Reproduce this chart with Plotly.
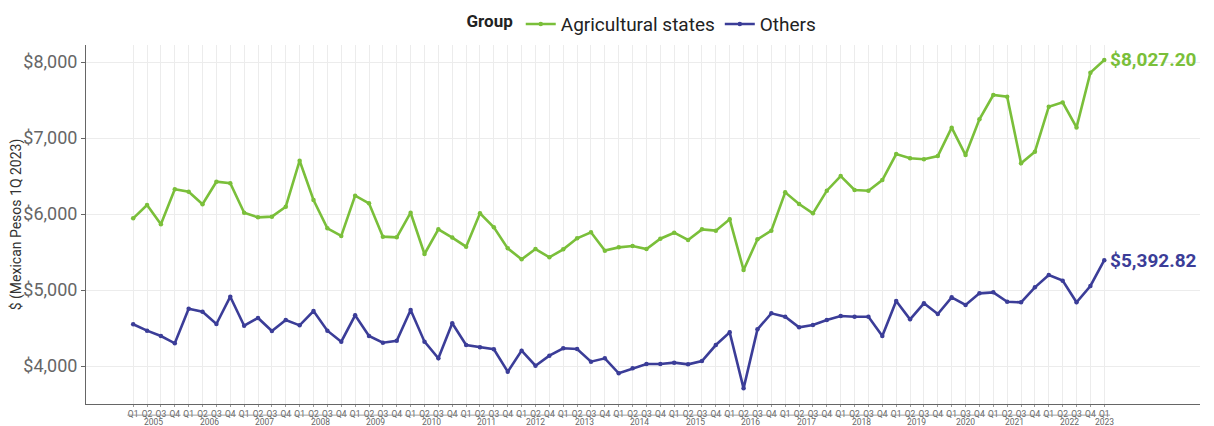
import plotly.graph_objects as go

# ---- data ----
year_quarters = {
    2005: ["Q1", "Q2", "Q3", "Q4"], 2006: ["Q1", "Q2", "Q3", "Q4"],
    2007: ["Q1", "Q2", "Q3", "Q4"], 2008: ["Q1", "Q2", "Q3", "Q4"],
    2009: ["Q1", "Q2", "Q3", "Q4"], 2010: ["Q1", "Q2", "Q3", "Q4"],
    2011: ["Q1", "Q2", "Q3", "Q4"], 2012: ["Q1", "Q2", "Q4"],
    2013: ["Q1", "Q2", "Q3", "Q4"], 2014: ["Q1", "Q2", "Q3", "Q4"],
    2015: ["Q1", "Q2", "Q3", "Q4"], 2016: ["Q1", "Q2", "Q3", "Q4"],
    2017: ["Q1", "Q2", "Q3", "Q4"], 2018: ["Q1", "Q2", "Q3", "Q4"],
    2019: ["Q1", "Q2", "Q3", "Q4"], 2020: ["Q1", "Q3", "Q4"],
    2021: ["Q1", "Q2", "Q3", "Q4"], 2022: ["Q1", "Q2", "Q3", "Q4"],
    2023: ["Q1"],
}

agricultural = [
    5943, 6118, 5864, 6325, 6294, 6128, 6425, 6404, 6017, 5956,
    5965, 6096, 6701, 6184, 5812, 5711, 6241, 6141, 5702, 5693,
    6017, 5474, 5798, 5690, 5570, 6009, 5825, 5548, 5404, 5539,
    5430, 5535, 5680, 5759, 5518, 5561, 5579, 5539, 5675, 5754,
    5658, 5798, 5781, 5930, 5263, 5667, 5781, 6285, 6132, 6009,
    6307, 6500, 6316, 6307, 6447, 6789, 6733, 6720, 6763, 7136,
    6776, 7246, 7566, 7544, 6667, 6820, 7412, 7469, 7140, 7860,
    8027.20,
]
others = [
    4549, 4465, 4395, 4299, 4754, 4715, 4553, 4912, 4530, 4632,
    4461, 4605, 4535, 4724, 4465, 4320, 4667, 4395, 4307, 4333,
    4737, 4320, 4101, 4562, 4276, 4246, 4220, 3925, 4202, 4004,
    4136, 4233, 4224, 4057, 4101, 3904, 3970, 4026, 4026, 4044,
    4022, 4066, 4276, 4443, 3706, 4482, 4693, 4649, 4509, 4539,
    4605, 4658, 4649, 4649, 4395, 4855, 4614, 4825, 4684, 4904,
    4803, 4956, 4969, 4846, 4838, 5035, 5197, 5123, 4838, 5053,
    5392.82,
]
y_ticks = [4000, 5000, 6000, 7000, 8000]

GREEN = "#7ABF3A"
BLUE = "#3B3D98"
FONT = "Roboto"

quarter_labels = []
year_of_point = []
for yr, qs in year_quarters.items():
    for q in qs:
        quarter_labels.append(q)
        year_of_point.append(yr)
idx = list(range(len(quarter_labels)))

fig = go.Figure()
for name, vals, col in [("Agricultural states", agricultural, GREEN),
                        ("Others", others, BLUE)]:
    fig.add_trace(go.Scatter(
        x=idx, y=vals, name=name, mode="lines+markers",
        line=dict(color=col, width=2.6),
        marker=dict(color=col, size=4.5),
    ))
    fig.add_annotation(
        x=idx[-1], y=vals[-1], text=f"${vals[-1]:,.2f}",
        showarrow=False, xanchor="left", yanchor="middle", xshift=4,
        font=dict(family=FONT, size=19, color=col, weight="bold"),
    )

# year labels with underline under each quarter group
for yr in year_quarters:
    pts = [i for i, y in zip(idx, year_of_point) if y == yr]
    fig.add_annotation(
        x=(pts[0] + pts[-1]) / 2, y=-0.049, xref="x", yref="paper",
        text=str(yr), showarrow=False, yanchor="middle",
        font=dict(family=FONT, size=8.5, color="#666"),
    )
    fig.add_shape(
        type="line", xref="x", yref="paper",
        x0=pts[0] - 0.42, x1=pts[-1] + 0.42, y0=-0.031, y1=-0.031,
        line=dict(color="#888", width=0.8),
    )

fig.update_layout(
    width=1206, height=418,
    margin=dict(l=78, r=14, t=37, b=22, autoexpand=False),
    paper_bgcolor="white", plot_bgcolor="white",
    font=dict(family=FONT, color="#555"),
    legend=dict(
        orientation="h", x=0.5, xanchor="center", y=1.058, yanchor="middle",
        title=dict(text="<b>Group</b>", font=dict(size=17, color="#222")),
        font=dict(size=19, color="#222"), itemwidth=30,
    ),
    showlegend=True,
)
fig.update_xaxes(
    range=[-3.4, 76.9], tickmode="array", tickvals=idx, ticktext=quarter_labels,
    tickfont=dict(size=8.5, color="#666"), tickangle=0,
    showgrid=True, gridcolor="#ececec", gridwidth=1,
    showline=True, linecolor="#666", linewidth=1,
    ticks="outside", ticklen=2, tickcolor="#999", zeroline=False,
)
fig.update_yaxes(
    range=[3500, 8224], tickmode="array", tickvals=y_ticks,
    ticktext=[f"${v:,}" for v in y_ticks], tickfont=dict(size=18, color="#666"),
    showgrid=True, gridcolor="#ececec", gridwidth=1,
    showline=True, linecolor="#666", linewidth=1,
    ticks="outside", ticklen=4, tickcolor="#666", zeroline=False,
    title=dict(text="$ (Mexican Pesos 1Q 2023)", font=dict(size=14, color="#333"),
               standoff=4),
)

fig.write_html("out.html")
